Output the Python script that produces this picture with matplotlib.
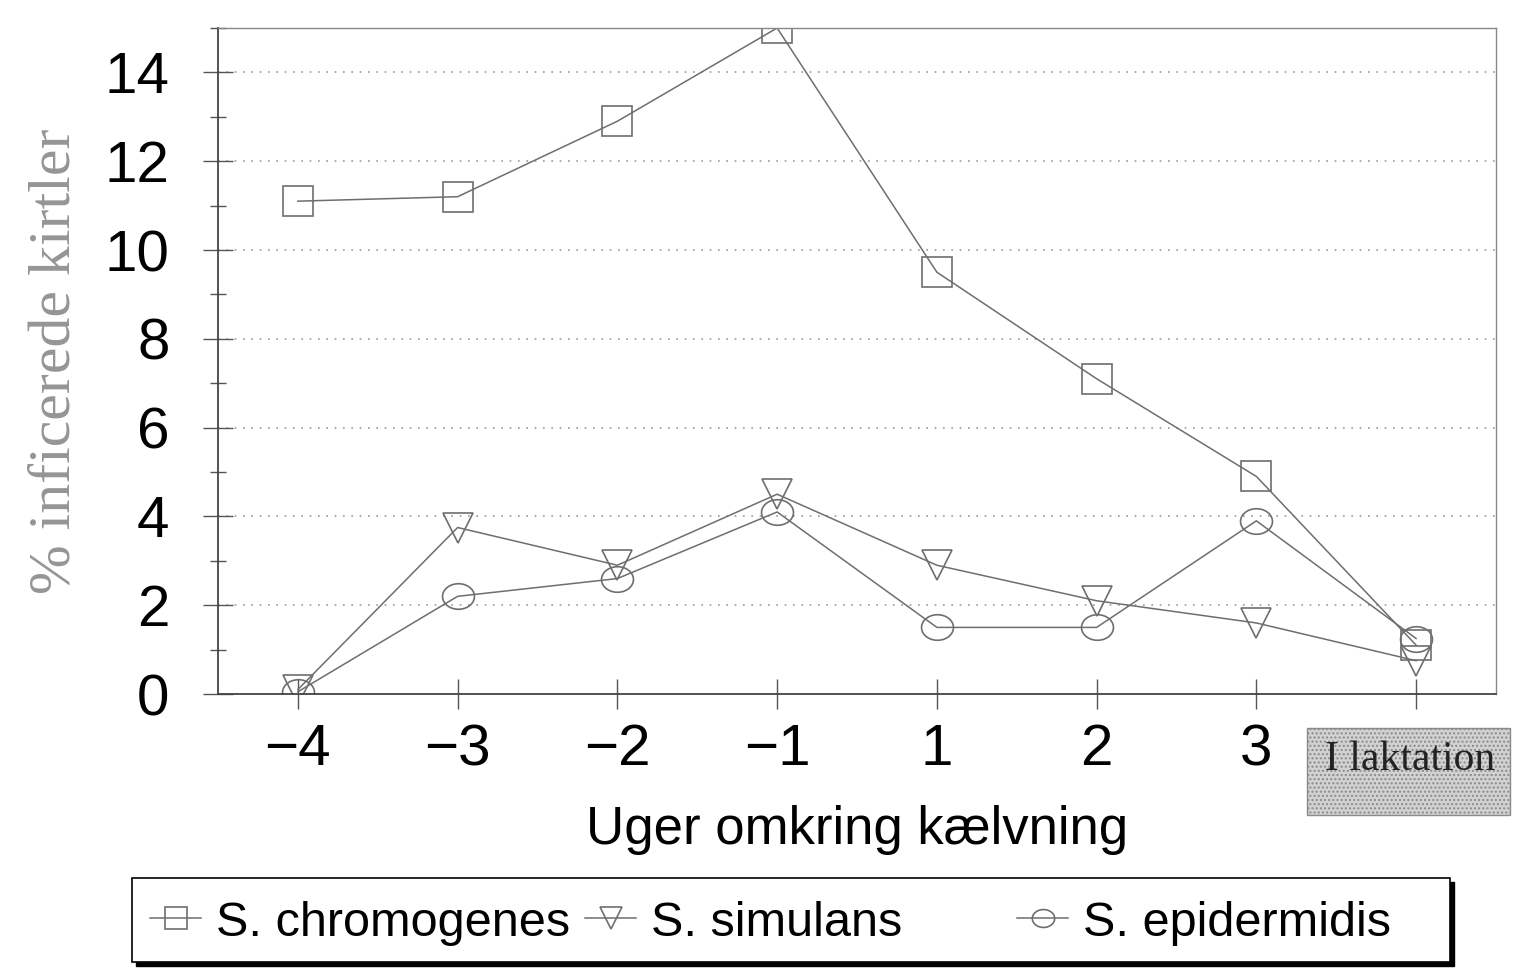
import matplotlib
matplotlib.use("Agg")
import matplotlib.pyplot as plt
import matplotlib.transforms as mtransforms
from matplotlib.ticker import MultipleLocator
from matplotlib.patches import Rectangle
from matplotlib.path import Path
import numpy as np

categories = ["\u22124", "\u22123", "\u22122", "\u22121", "1", "2", "3", "I laktation"]
chromogenes = [11.1, 11.2, 12.9, 15.0, 9.5, 7.1, 4.9, 1.1]
simulans = [0.1, 3.75, 2.9, 4.5, 2.9, 2.1, 1.6, 0.75]
epidermidis = [0.05, 2.2, 2.6, 4.1, 1.5, 1.5, 3.9, 1.25]
series_names = ["S. chromogenes", "S. simulans", "S. epidermidis"]

W, H = 1514, 968
fig = plt.figure(figsize=(W / 100, H / 100), dpi=100)
ax = fig.add_axes([218 / W, 1 - 694 / H, (1496 - 218) / W, (694 - 28) / H])

# elliptical marker (wider than tall)
t = np.linspace(0, 2 * np.pi, 60)
ellipse = Path(np.column_stack([np.cos(t), 0.8 * np.sin(t)]), closed=True)

x = list(range(len(categories)))
lc = "#6e6e6e"
common = dict(color=lc, lw=1.1, markerfacecolor="none", markeredgecolor=lc, markeredgewidth=1.2)
l1, = ax.plot(x, chromogenes, marker="s", markersize=22, label=series_names[0], **common)
l2, = ax.plot(x, simulans, marker="v", markersize=22, label=series_names[1], **common)
l3, = ax.plot(x, epidermidis, marker=ellipse, markersize=23, label=series_names[2], **common)

ax.set_xlim(-0.5, 7.5)
ax.set_ylim(0, 15)
ax.yaxis.set_major_locator(MultipleLocator(2))
ax.yaxis.set_minor_locator(MultipleLocator(1))
ax.set_yticks(range(0, 15, 2))
ax.set_xticks(x)
ax.set_xticklabels(categories[:-1] + [""], fontsize=42, family="Liberation Sans")
for lab in ax.get_yticklabels():
    lab.set_fontsize(42)
    lab.set_family("Liberation Sans")

ax.tick_params(axis="both", direction="inout", length=22, width=1.0, color="#555555")
ax.tick_params(axis="y", which="minor", direction="inout", length=12, width=1.0, color="#555555")
ax.tick_params(axis="x", pad=10)
ax.tick_params(axis="y", pad=24)

ax.grid(axis="y", which="major", linestyle=(0, (1, 4)), color="#999999", lw=1.2)
ax.set_axisbelow(True)
for s in ["left", "bottom"]:
    ax.spines[s].set_color("#444444")
    ax.spines[s].set_linewidth(1.3)
for s in ["top", "right"]:
    ax.spines[s].set_color("#888888")
    ax.spines[s].set_linewidth(1.0)

# "I laktation" category label in a grey box
plt.rcParams["hatch.color"] = "#bdbdbd"
blend = mtransforms.blended_transform_factory(ax.transData, ax.transAxes)
ax.add_patch(Rectangle((6.32, -0.182), 1.27, 0.131, transform=blend, clip_on=False,
                       facecolor="#d2d2d2", edgecolor="#8a8a8a", lw=1.0, hatch="....",
                       zorder=3))
ax.text(6.96, -0.098, categories[-1], transform=blend, ha="center", va="center",
        fontsize=30, family="Liberation Serif", color="#222222", zorder=4, clip_on=False)

ax.set_xlabel("Uger omkring kælvning", fontsize=38, family="Liberation Sans", labelpad=20)
ax.set_ylabel("% inficerede kirtler", fontsize=43, family="Liberation Serif", color="#959595")
ax.yaxis.set_label_coords(-0.106, 0.5)

# legend frame with shadow
fig.patches.append(Rectangle((136 / W, 1 - 966 / H), 1318 / W, 84 / H, transform=fig.transFigure,
                             facecolor="black", edgecolor="black", zorder=1))
fig.patches.append(Rectangle((132 / W, 1 - 962 / H), 1318 / W, 84 / H, transform=fig.transFigure,
                             facecolor="white", edgecolor="black", lw=1.2, zorder=2))

ycen = 1 - 923 / H
for handle, name, xs in [(l1, series_names[0], 150), (l2, series_names[1], 585), (l3, series_names[2], 1017)]:
    fig.legend(handles=[handle], labels=[name], loc="center left", bbox_to_anchor=(xs / W, ycen),
               frameon=False, prop={"family": "Liberation Sans", "size": 35},
               handlelength=1.05, handletextpad=0.3, markerscale=0.7, borderpad=0,
               borderaxespad=0)

fig.savefig("out.png", dpi=100)
